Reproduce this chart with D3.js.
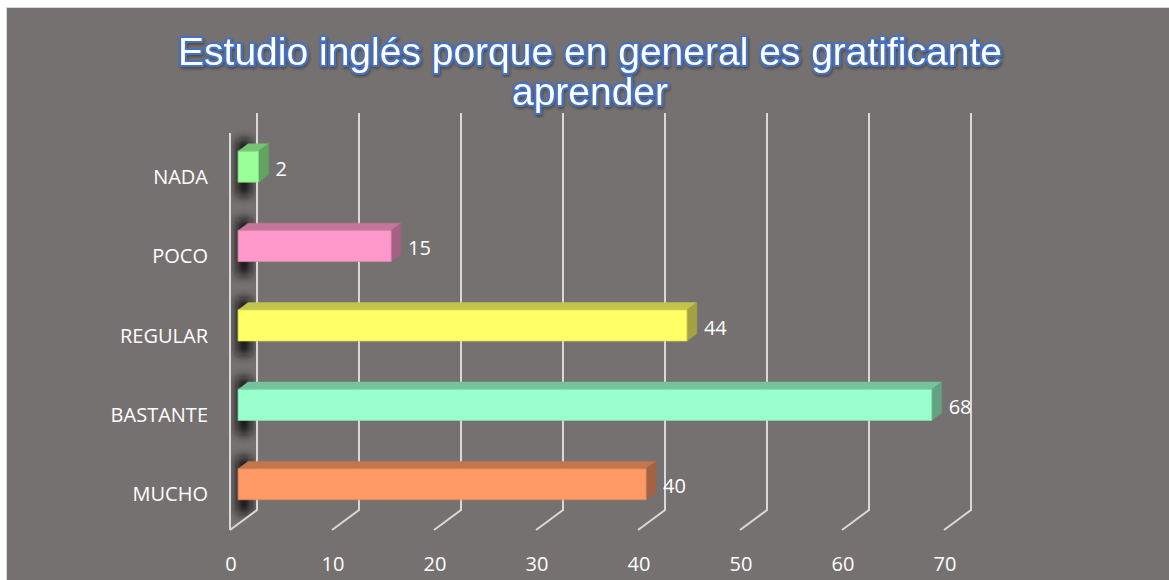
<!DOCTYPE html>
<html>
<head>
  <meta charset="utf8" />
  <style>
    body {
      margin: 0;
      background: #fff;
    }
    text {
      font-family: "Open Sans", "Noto Sans", sans-serif;
      fill: #fff;
    }
    .title {
      font-family: "Liberation Sans", Arial, sans-serif;
      font-size: 39px;
      stroke: #4472c4;
      stroke-width: 4px;
      paint-order: stroke;
      stroke-linejoin: round;
      text-anchor: middle;
    }
  </style>
</head>
<body>
  <script src="https://d3js.org/d3.v7.min.js"></script>
  <script>
    var categories = ["NADA", "POCO", "REGULAR", "BASTANTE", "MUCHO"];
    var values = [2, 15, 44, 68, 40];
    var tickValues = [0, 10, 20, 30, 40, 50, 60, 70];
    var colors = ["#99ff99", "#ff99cc", "#ffff66", "#99ffcc", "#ff9966"];
    var titleLines = ["Estudio inglés porque en general es gratificante", "aprender"];

    var width = 1169,
        height = 580,
        depth = [27, -20],        // back wall offset
        barDepth = [0.3, 0.67];   // bar front/back as fraction of depth

    var x = d3.scaleLinear().domain([0, 70]).range([230, 944]);
    var y = d3.scaleBand().domain(categories).range([133, 530]).paddingInner(0.61).paddingOuter(0.305);
    var yLab = d3.scaleBand().domain(categories).range([133, 530]);

    // front-plane point -> projected point at depth fraction d
    function proj(px, py, d) {
      return [px + d * depth[0], py + d * depth[1]];
    }

    var svg = d3.select("body").append("svg").attr("width", width).attr("height", height);

    var defs = svg.append("defs");
    defs.append("filter").attr("id", "blur")
        .attr("x", "-50%").attr("y", "-50%").attr("width", "200%").attr("height", "200%")
      .append("feGaussianBlur").attr("stdDeviation", 5);
    defs.append("filter").attr("id", "tshadow")
      .append("feDropShadow").attr("dx", 1).attr("dy", 2).attr("stdDeviation", 1.5)
        .attr("flood-color", "#000").attr("flood-opacity", 0.35);

    var wallPts = [proj(x(0), 530, 0), proj(x(0), 530, 1), proj(x(0), 133, 1), proj(x(0), 133, 0)];
    defs.append("clipPath").attr("id", "wallclip")
      .append("polygon").attr("points", wallPts.join(" "));

    svg.append("rect")
        .attr("x", 6.5).attr("y", 7.5)
        .attr("width", width).attr("height", height)
        .attr("fill", "#767171")
        .attr("stroke", "#d9d9d9");

    // title
    svg.selectAll(".title")
        .data(titleLines)
      .enter().append("text")
        .attr("class", "title")
        .attr("filter", "url(#tshadow)")
        .attr("x", 590)
        .attr("y", (d, i) => 65 + i * 40)
        .text(d => d);

    // left wall shadows
    var wall = svg.append("g").attr("clip-path", "url(#wallclip)");
    wall.selectAll("rect")
        .data(categories)
      .enter().append("rect")
        .attr("x", x(0) + 7)
        .attr("y", d => y(d) - 18)
        .attr("width", 14)
        .attr("height", y.bandwidth() + 26)
        .attr("fill", "#111")
        .attr("opacity", 0.95)
        .attr("filter", "url(#blur)");

    // gridlines: floor diagonal + back wall vertical
    var grid = svg.append("g")
        .attr("fill", "none")
        .attr("stroke", "#d9d9d9")
        .attr("stroke-width", 2);
    grid.selectAll("path")
        .data(tickValues)
      .enter().append("path")
        .attr("d", t => {
          var a = proj(x(t), 530, 0), b = proj(x(t), 530, 1), c = proj(x(t), 133, 1);
          return "M" + a + "L" + b + "L" + c;
        });
    grid.append("line")
        .attr("x1", x(0)).attr("y1", 530)
        .attr("x2", x(0)).attr("y2", 133);

    // bars
    function shade(c, k) {
      return d3.color(c).darker(k).formatHex();
    }
    var bars = svg.selectAll(".bar")
        .data(categories)
      .enter().append("g")
        .attr("class", "bar");

    bars.each(function(cat, i) {
      var g = d3.select(this),
          v = values[i],
          col = colors[i],
          x0 = x(0), x1 = x(v),
          y0 = y(cat), y1 = y(cat) + y.bandwidth(),
          f = barDepth[0], b = barDepth[1];
      var fTL = proj(x0, y0, f), fTR = proj(x1, y0, f), fBR = proj(x1, y1, f), fBL = proj(x0, y1, f),
          bTL = proj(x0, y0, b), bTR = proj(x1, y0, b), bBR = proj(x1, y1, b);
      g.append("polygon")
          .attr("points", [fTL, bTL, bTR, fTR].join(" "))
          .attr("fill", shade(col, 0.75))
          .attr("stroke", shade(col, 0.75)).attr("stroke-width", 0.5);
      g.append("polygon")
          .attr("points", [fTR, bTR, bBR, fBR].join(" "))
          .attr("fill", shade(col, 1.25))
          .attr("stroke", shade(col, 1.25)).attr("stroke-width", 0.5);
      g.append("polygon")
          .attr("points", [fTL, fTR, fBR, fBL].join(" "))
          .attr("fill", col)
          .attr("stroke", shade(col, 0.4)).attr("stroke-width", 0.8);

      g.append("text")
          .attr("x", fTR[0] + 17)
          .attr("y", (fTR[1] + fBR[1]) / 2 + 9)
          .attr("font-size", 20)
          .text(v);
    });

    // category labels
    svg.selectAll(".cat")
        .data(categories)
      .enter().append("text")
        .attr("class", "cat")
        .attr("x", 208)
        .attr("y", d => yLab(d) + yLab.bandwidth() / 2 + 11)
        .attr("text-anchor", "end")
        .attr("font-size", 20)
        .text(d => d);

    // value axis labels
    svg.selectAll(".tick")
        .data(tickValues)
      .enter().append("text")
        .attr("class", "tick")
        .attr("x", d => x(d) + 1)
        .attr("y", 571)
        .attr("text-anchor", "middle")
        .attr("font-size", 20)
        .text(d => d);
  </script>
</body>
</html>
